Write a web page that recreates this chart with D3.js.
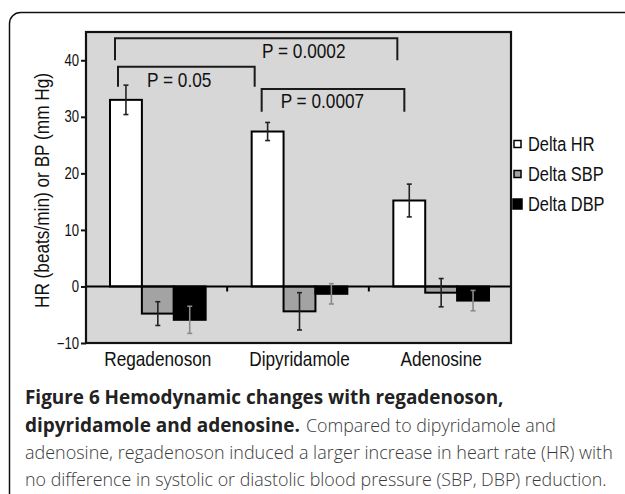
<!DOCTYPE html>
<html>
<head>
<meta charset="utf-8">
<script src="https://cdn.jsdelivr.net/npm/d3@7"></script>
<style>
  body { margin: 0; background: #fff; }
  svg { display: block; }
  .chart text { font-family: "Liberation Sans", Arial, sans-serif; fill: #111; }
  .caption text { font-family: "Open Sans", "Noto Sans", sans-serif; }
</style>
</head>
<body>
<script>
// Data
var categories = ["Regadenoson", "Dipyridamole", "Adenosine"];
var series = ["Delta HR", "Delta SBP", "Delta DBP"];
var deltaHR  = [33.0, 27.4, 15.2];
var deltaSBP = [-4.8, -4.4, -1.1];
var deltaDBP = [-5.9, -1.3, -2.5];
var errHR  = [2.6, 1.6, 2.9];
var errSBP = [2.1, 3.3, 2.5];
var errDBP = [2.4, 1.8, 1.8];
var yTicks = [-10, 0, 10, 20, 30, 40];

// significance brackets (values in y units)
var brackets = [
  {a: "Regadenoson", b: "Adenosine",   top: 43.9, leg: 40.0, labelY: 40.4, label: "P = 0.0002"},
  {a: "Regadenoson", b: "Dipyridamole", top: 38.85, leg: 35.3, labelY: 35.3, label: "P = 0.05"},
  {a: "Dipyridamole", b: "Adenosine",  top: 34.9, leg: 30.9, labelY: 31.6, label: "P = 0.0007"}
];

// caption lines: [text, bold, x, baseline, target width]
var captionLines = [
  ["Figure 6 Hemodynamic changes with regadenoson,", true, 25, 404, 479],
  ["dipyridamole and adenosine.", true, 25, 432, 275],
  ["Compared to dipyridamole and", false, 306, 432, 250],
  ["adenosine, regadenoson induced a larger increase in heart rate (HR) with", false, 25, 459, 588],
  ["no difference in systolic or diastolic blood pressure (SBP, DBP) reduction.", false, 25, 486, 582]
];

var fills = {"Delta HR": "#ffffff", "Delta SBP": "#a3a3a3", "Delta DBP": "#000000"};
var errColor = {"Delta HR": "#222", "Delta SBP": "#222", "Delta DBP": "#8a8a8a"};

var width = 625, height = 494;
var plot = {left: 86, right: 511, top: 32, bottom: 343};
var narrow = 0.82; // the figure uses a condensed face

var svg = d3.select("body").append("svg").attr("width", width).attr("height", height);

// outer rounded frame (runs off the right and bottom edges)
svg.append("rect")
  .attr("x", 9.5).attr("y", 12.5).attr("width", 700).attr("height", 600)
  .attr("rx", 11).attr("fill", "none").attr("stroke", "#111").attr("stroke-width", 1.5);

var x0 = d3.scaleBand().domain(categories).range([plot.left, plot.right]);
var x1 = d3.scaleBand().domain(series).range([24, x0.bandwidth() - 22]);
var y = d3.scaleLinear().domain([-10, 45]).range([plot.bottom, plot.top]);

var rows = categories.map(function(c, i) {
  return [
    {cat: c, s: "Delta HR", v: deltaHR[i], e: errHR[i]},
    {cat: c, s: "Delta SBP", v: deltaSBP[i], e: errSBP[i]},
    {cat: c, s: "Delta DBP", v: deltaDBP[i], e: errDBP[i]}
  ];
});
var flat = d3.merge(rows);

var chart = svg.append("g").attr("class", "chart");

chart.append("rect")
  .attr("x", plot.left).attr("y", plot.top)
  .attr("width", plot.right - plot.left).attr("height", plot.bottom - plot.top)
  .attr("fill", "#d7d7d7");

// bars
chart.selectAll(".bar")
  .data(flat)
  .enter().append("rect")
  .attr("class", "bar")
  .attr("x", function(d) { return x0(d.cat) + x1(d.s); })
  .attr("y", function(d) { return y(Math.max(0, d.v)); })
  .attr("width", x1.bandwidth())
  .attr("height", function(d) { return Math.abs(y(d.v) - y(0)); })
  .attr("fill", function(d) { return fills[d.s]; })
  .attr("stroke", "#000")
  .attr("stroke-width", 2);

// zero line
chart.append("line")
  .attr("x1", plot.left).attr("x2", plot.right)
  .attr("y1", y(0)).attr("y2", y(0))
  .attr("stroke", "#000").attr("stroke-width", 2);

// small category ticks below the zero line
chart.selectAll(".ctick")
  .data(categories.slice(1))
  .enter().append("line")
  .attr("x1", function(c) { return x0(c) - 0.5; })
  .attr("x2", function(c) { return x0(c) - 0.5; })
  .attr("y1", y(0)).attr("y2", y(0) + 5)
  .attr("stroke", "#000").attr("stroke-width", 2);

// error bars
var eb = chart.selectAll(".err")
  .data(flat)
  .enter().append("g")
  .attr("class", "err")
  .attr("stroke", function(d) { return errColor[d.s]; })
  .attr("stroke-width", 1.6);
eb.append("line")
  .attr("x1", function(d) { return x0(d.cat) + x1(d.s) + x1.bandwidth() / 2; })
  .attr("x2", function(d) { return x0(d.cat) + x1(d.s) + x1.bandwidth() / 2; })
  .attr("y1", function(d) { return y(d.v + d.e); })
  .attr("y2", function(d) { return y(d.v - d.e); });
[1, -1].forEach(function(sign) {
  eb.append("line")
    .attr("x1", function(d) { return x0(d.cat) + x1(d.s) + x1.bandwidth() / 2 - 2.5; })
    .attr("x2", function(d) { return x0(d.cat) + x1(d.s) + x1.bandwidth() / 2 + 2.5; })
    .attr("y1", function(d) { return y(d.v + sign * d.e); })
    .attr("y2", function(d) { return y(d.v + sign * d.e); });
});

// plot border
chart.append("rect")
  .attr("x", plot.left).attr("y", plot.top)
  .attr("width", plot.right - plot.left).attr("height", plot.bottom - plot.top)
  .attr("fill", "none").attr("stroke", "#111").attr("stroke-width", 2.2);

// y axis
var yAxis = chart.append("g")
  .attr("transform", "translate(" + plot.left + ",0)")
  .call(d3.axisLeft(y).tickValues(yTicks).tickSize(5).tickPadding(2));
yAxis.select(".domain").remove();
yAxis.selectAll(".tick line").attr("stroke", "#111").attr("stroke-width", 2);
yAxis.selectAll(".tick text").attr("font-size", 16).attr("fill", "#111")
  .style("font-family", "'Liberation Sans', Arial, sans-serif");

chart.append("text")
  .attr("transform", "translate(49," + ((plot.top + plot.bottom) / 2 + 3) + ") rotate(-90)")
  .attr("text-anchor", "middle")
  .attr("font-size", 21)
  .text("HR (beats/min) or BP (mm Hg)");

// category labels
chart.selectAll(".xlab")
  .data(categories)
  .enter().append("text")
  .attr("class", "xlab")
  .attr("x", function(c) { return x0(c) + x0.bandwidth() / 2 + 1; })
  .attr("y", plot.bottom + 23)
  .attr("text-anchor", "middle")
  .attr("font-size", 21)
  .text(function(c) { return c; });

// significance brackets
var legNudge = [[5, 4], [8, 3], [10, 11]];
var labelNudge = [147, 29, 19];
var hrX = function(c) { return x0(c) + x1("Delta HR"); };
brackets.forEach(function(b, i) {
  var xa = hrX(b.a) + legNudge[i][0], xb = hrX(b.b) + legNudge[i][1];
  chart.append("path")
    .attr("d", "M" + xa + "," + y(b.leg) + "V" + y(b.top) + "H" + xb + "V" + y(b.leg))
    .attr("fill", "none").attr("stroke", "#1a1a1a").attr("stroke-width", 2);
  chart.append("text")
    .attr("x", xa + labelNudge[i])
    .attr("y", y(b.labelY))
    .attr("font-size", 21)
    .text(b.label);
});

// legend
var legend = chart.selectAll(".legend")
  .data(series)
  .enter().append("g")
  .attr("class", "legend")
  .attr("transform", function(d, i) { return "translate(" + (plot.right + 2) + "," + (144 + i * 30) + ")"; });
legend.append("rect")
  .attr("x", function(d, i) { return i === 2 ? 0 : 1; })
  .attr("y", function(d, i) { return i === 2 ? -5 : -3.5; })
  .attr("width", function(d, i) { return i === 2 ? 9 : 7; })
  .attr("height", function(d, i) { return i === 2 ? 10 : 7; })
  .attr("fill", function(d) { return fills[d]; })
  .attr("stroke", "#000").attr("stroke-width", 1.5);
legend.append("text")
  .attr("x", 15).attr("y", 7)
  .attr("font-size", 20)
  .text(function(d) { return d; });

// squeeze chart texts to the condensed look
chart.selectAll("text").each(function() {
  var w = this.getComputedTextLength();
  d3.select(this).attr("textLength", w * narrow).attr("lengthAdjust", "spacingAndGlyphs");
});

// caption, each line scaled horizontally to its measured width
var cap = svg.append("g").attr("class", "caption");
captionLines.forEach(function(l) {
  var g = cap.append("g");
  var t = g.append("text")
    .attr("font-size", 19)
    .attr("font-weight", l[1] ? "bold" : 300)
    .attr("fill", l[1] ? "#222" : "#3a3a3a")
    .text(l[0]);
  var w = t.node().getComputedTextLength();
  g.attr("transform", "translate(" + l[2] + "," + l[3] + ") scale(" + (l[4] / w) + ",1)");
});
</script>
</body>
</html>
